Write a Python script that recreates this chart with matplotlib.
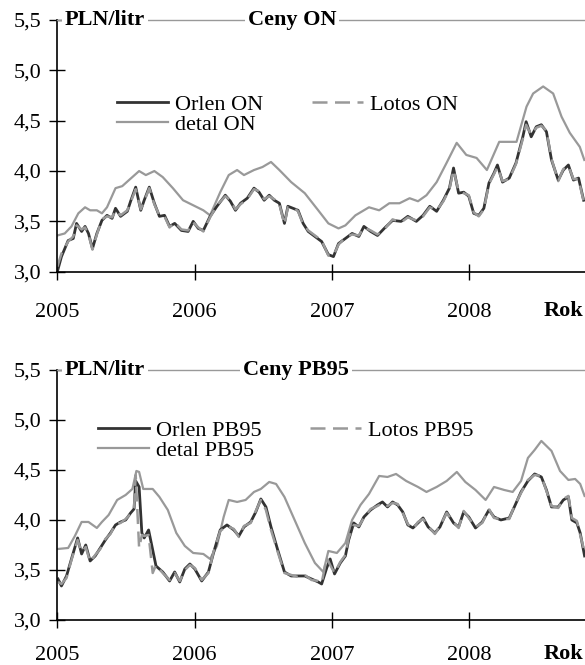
import numpy as np
import matplotlib
matplotlib.use("Agg")
import matplotlib.pyplot as plt

plt.rcParams['font.family'] = ['Liberation Serif', 'DejaVu Serif']

# osie
YEARS = [2005, 2006, 2007, 2008]
YEAR_LABELS = ["2005", "2006", "2007", "2008"]
Y_TICKS = [3.0, 3.5, 4.0, 4.5, 5.0, 5.5]
Y_LABELS = ["3,0", "3,5", "4,0", "4,5", "5,0", "5,5"]

# --- Ceny ON (czas w latach od 2005) ---
t_on_hurt = [0.000, 0.030, 0.079, 0.116, 0.140, 0.177, 0.202, 0.227, 0.256, 0.288,
             0.325, 0.362, 0.399, 0.424, 0.461, 0.510, 0.534, 0.571, 0.608, 0.633,
             0.670, 0.707, 0.744, 0.781, 0.818, 0.855, 0.904, 0.953, 0.990, 1.027,
             1.064, 1.113, 1.163, 1.224, 1.261, 1.298, 1.335, 1.384, 1.433, 1.470,
             1.507, 1.544, 1.581, 1.618, 1.655, 1.680, 1.717, 1.754, 1.791, 1.828,
             1.877, 1.926, 1.975, 2.012, 2.049, 2.099, 2.148, 2.197, 2.234, 2.283,
             2.333, 2.382, 2.443, 2.505, 2.554, 2.616, 2.665, 2.714, 2.764, 2.813,
             2.857, 2.887, 2.924, 2.961, 2.998, 3.034, 3.071, 3.108, 3.145, 3.182,
             3.207, 3.244, 3.293, 3.342, 3.392, 3.416, 3.453, 3.490, 3.527, 3.564,
             3.601, 3.650, 3.687, 3.724, 3.761, 3.798, 3.835]
orlen_on = [3.00, 3.15, 3.31, 3.33, 3.48, 3.40, 3.45, 3.38, 3.23, 3.38,
            3.51, 3.56, 3.53, 3.63, 3.55, 3.60, 3.70, 3.84, 3.61, 3.71,
            3.84, 3.68, 3.55, 3.56, 3.45, 3.48, 3.41, 3.40, 3.50, 3.43,
            3.41, 3.55, 3.65, 3.76, 3.70, 3.61, 3.68, 3.73, 3.83, 3.79,
            3.71, 3.76, 3.71, 3.68, 3.48, 3.65, 3.63, 3.61, 3.48, 3.40,
            3.35, 3.30, 3.17, 3.15, 3.28, 3.33, 3.38, 3.35, 3.45, 3.40,
            3.36, 3.43, 3.51, 3.50, 3.55, 3.50, 3.56, 3.65, 3.60, 3.71,
            3.83, 4.03, 3.78, 3.79, 3.75, 3.58, 3.56, 3.63, 3.88, 3.98,
            4.06, 3.89, 3.93, 4.08, 4.34, 4.49, 4.34, 4.44, 4.46, 4.39,
            4.11, 3.91, 4.01, 4.06, 3.91, 3.93, 3.71]
lotos_on = [3.05, 3.18, 3.30, 3.35, 3.46, 3.42, 3.44, 3.37, 3.22, 3.37,
            3.52, 3.55, 3.54, 3.61, 3.56, 3.61, 3.69, 3.82, 3.62, 3.70,
            3.83, 3.67, 3.56, 3.55, 3.44, 3.49, 3.42, 3.41, 3.49, 3.44,
            3.40, 3.54, 3.66, 3.75, 3.71, 3.62, 3.67, 3.72, 3.82, 3.80,
            3.72, 3.75, 3.72, 3.67, 3.47, 3.64, 3.64, 3.60, 3.47, 3.41,
            3.36, 3.31, 3.16, 3.16, 3.27, 3.34, 3.37, 3.36, 3.44, 3.41,
            3.37, 3.42, 3.52, 3.49, 3.54, 3.51, 3.55, 3.64, 3.61, 3.70,
            3.82, 4.01, 3.80, 3.78, 3.76, 3.59, 3.55, 3.62, 3.87, 3.97,
            4.04, 3.90, 3.92, 4.07, 4.32, 4.46, 4.36, 4.43, 4.45, 4.40,
            4.12, 3.90, 4.02, 4.05, 3.92, 3.92, 3.70]

t_on_detal = [0.000, 0.054, 0.103, 0.153, 0.202, 0.239, 0.288, 0.325, 0.362, 0.424,
              0.473, 0.522, 0.596, 0.645, 0.707, 0.768, 0.842, 0.916, 0.990, 1.064,
              1.113, 1.187, 1.249, 1.310, 1.360, 1.433, 1.495, 1.557, 1.618, 1.704,
              1.803, 1.901, 1.975, 2.049, 2.099, 2.172, 2.271, 2.345, 2.419, 2.493,
              2.567, 2.628, 2.690, 2.764, 2.836, 2.910, 2.980, 3.055, 3.130, 3.220,
              3.346, 3.419, 3.467, 3.540, 3.613, 3.674, 3.734, 3.807, 3.840]
detal_on = [3.36, 3.38, 3.45, 3.58, 3.64, 3.61, 3.61, 3.58, 3.64, 3.83,
            3.85, 3.91, 4.00, 3.96, 4.00, 3.94, 3.83, 3.71, 3.66, 3.61,
            3.56, 3.79, 3.96, 4.01, 3.96, 4.01, 4.04, 4.09, 4.01, 3.89,
            3.78, 3.61, 3.48, 3.43, 3.46, 3.56, 3.64, 3.61, 3.68, 3.68,
            3.73, 3.70, 3.76, 3.89, 4.08, 4.28, 4.16, 4.13, 4.01, 4.29,
            4.29, 4.64, 4.77, 4.84, 4.77, 4.54, 4.38, 4.24, 4.11]

# --- Ceny PB95 ---
t_pb_hurt = [0.005, 0.030, 0.067, 0.103, 0.148, 0.177, 0.207, 0.239, 0.276, 0.313,
             0.350, 0.387, 0.424, 0.461, 0.498, 0.534, 0.559, 0.571, 0.596, 0.616,
             0.633, 0.665, 0.695, 0.719, 0.768, 0.818, 0.855, 0.892, 0.929, 0.966,
             1.002, 1.052, 1.101, 1.138, 1.187, 1.236, 1.286, 1.323, 1.360, 1.409,
             1.446, 1.483, 1.520, 1.557, 1.606, 1.655, 1.704, 1.754, 1.803, 1.852,
             1.901, 1.926, 1.963, 1.988, 2.020, 2.062, 2.099, 2.123, 2.160, 2.197,
             2.234, 2.283, 2.333, 2.369, 2.406, 2.443, 2.480, 2.517, 2.554, 2.591,
             2.628, 2.665, 2.702, 2.751, 2.788, 2.837, 2.887, 2.924, 2.961, 2.998,
             3.047, 3.096, 3.145, 3.182, 3.232, 3.293, 3.330, 3.379, 3.429, 3.478,
             3.527, 3.564, 3.601, 3.650, 3.687, 3.724, 3.749, 3.786, 3.810, 3.842]
orlen_pb = [3.41, 3.34, 3.44, 3.61, 3.82, 3.66, 3.75, 3.59, 3.64, 3.72,
            3.80, 3.87, 3.95, 3.98, 4.00, 4.07, 4.11, 4.39, 4.33, 3.87,
            3.82, 3.90, 3.70, 3.54, 3.48, 3.39, 3.48, 3.38, 3.51, 3.56,
            3.51, 3.39, 3.48, 3.67, 3.90, 3.95, 3.90, 3.84, 3.93, 3.98,
            4.08, 4.21, 4.13, 3.93, 3.70, 3.48, 3.44, 3.44, 3.44, 3.41,
            3.38, 3.36, 3.52, 3.61, 3.46, 3.57, 3.64, 3.80, 3.97, 3.93,
            4.03, 4.10, 4.15, 4.18, 4.13, 4.18, 4.15, 4.08, 3.95, 3.92,
            3.97, 4.02, 3.93, 3.87, 3.93, 4.08, 3.97, 3.93, 4.08, 4.03,
            3.92, 3.98, 4.10, 4.03, 4.00, 4.02, 4.13, 4.28, 4.39, 4.46,
            4.43, 4.30, 4.13, 4.13, 4.20, 4.23, 4.00, 3.97, 3.87, 3.64]
lotos_pb = [3.38, 3.36, 3.42, 3.60, 3.80, 3.68, 3.73, 3.58, 3.65, 3.71,
            3.81, 3.86, 3.96, 3.97, 4.01, 4.06, 4.12, 4.45, 3.72, 3.85,
            3.84, 3.85, 3.47, 3.55, 3.47, 3.40, 3.47, 3.39, 3.50, 3.55,
            3.52, 3.40, 3.47, 3.68, 3.89, 3.94, 3.91, 3.83, 3.94, 3.97,
            4.09, 4.20, 4.10, 3.90, 3.68, 3.47, 3.45, 3.43, 3.45, 3.40,
            3.39, 3.37, 3.62, 3.55, 3.47, 3.58, 3.65, 3.82, 3.95, 3.94,
            4.02, 4.11, 4.14, 4.17, 4.14, 4.17, 4.16, 4.07, 3.96, 3.91,
            3.98, 4.01, 3.94, 3.86, 3.94, 4.07, 3.98, 3.92, 4.09, 4.02,
            3.93, 3.97, 4.11, 4.02, 4.01, 4.01, 4.14, 4.27, 4.40, 4.45,
            4.44, 4.29, 4.14, 4.12, 4.21, 4.24, 4.02, 3.99, 3.85, 3.68]

t_pb_detal = [0.005, 0.079, 0.128, 0.177, 0.227, 0.288, 0.325, 0.374, 0.436, 0.498,
              0.547, 0.576, 0.596, 0.626, 0.695, 0.744, 0.805, 0.867, 0.929, 0.990,
              1.064, 1.113, 1.163, 1.212, 1.249, 1.310, 1.372, 1.433, 1.483, 1.544,
              1.594, 1.655, 1.729, 1.803, 1.877, 1.938, 1.975, 2.037, 2.099, 2.148,
              2.209, 2.271, 2.345, 2.406, 2.468, 2.542, 2.628, 2.690, 2.764, 2.837,
              2.911, 2.973, 3.047, 3.121, 3.182, 3.256, 3.318, 3.379, 3.429, 3.478,
              3.527, 3.601, 3.663, 3.724, 3.773, 3.810, 3.842]
detal_pb = [3.71, 3.72, 3.84, 3.98, 3.98, 3.92, 3.98, 4.05, 4.20, 4.25,
            4.31, 4.49, 4.48, 4.31, 4.31, 4.23, 4.10, 3.87, 3.74, 3.67,
            3.66, 3.61, 3.74, 4.03, 4.20, 4.18, 4.20, 4.28, 4.31, 4.38,
            4.36, 4.23, 4.00, 3.77, 3.57, 3.48, 3.69, 3.67, 3.77, 4.00,
            4.15, 4.26, 4.44, 4.43, 4.46, 4.39, 4.33, 4.28, 4.33, 4.39,
            4.48, 4.38, 4.30, 4.20, 4.33, 4.30, 4.28, 4.39, 4.62, 4.70,
            4.79, 4.69, 4.49, 4.40, 4.41, 4.36, 4.24]

DARK = "#333333"
GRAY = "#999999"

fig = plt.figure(figsize=(5.85, 6.65), dpi=100)
ax_on = fig.add_axes([0.098, 0.5914, 0.902, 0.3785])
ax_pb = fig.add_axes([0.098, 0.0677, 0.902, 0.3760])


def draw_panel(ax, t_h, orlen, lotos, t_d, detal, fuel, title_x, leg_xy, xpad, rok_y):
    ax.plot(2005 + np.array(t_d), detal, color=GRAY, lw=1.6, label=f"detal {fuel}")
    ax.plot(2005 + np.array(t_h), orlen, color=DARK, lw=2.0, label=f"Orlen {fuel}")
    ax.plot(2005 + np.array(t_h), lotos, color=GRAY, lw=1.8, dashes=(6, 3),
            label=f"Lotos {fuel}")

    ax.set_xlim(2005, 2008.845)
    ax.set_ylim(3.0, 5.5)
    ax.set_xticks(YEARS)
    ax.set_xticklabels(YEAR_LABELS)
    ax.set_yticks(Y_TICKS)
    ax.set_yticklabels(Y_LABELS)
    ax.tick_params(axis='both', direction='inout', length=11, width=1,
                   labelsize=16, colors='black')
    ax.tick_params(axis='x', pad=xpad)
    ax.tick_params(axis='y', pad=6)

    ax.spines['right'].set_visible(False)
    ax.spines['top'].set_color(GRAY)
    ax.spines['top'].set_linewidth(1)
    ax.spines['left'].set_linewidth(1.2)
    ax.spines['bottom'].set_linewidth(1.2)

    box = dict(facecolor='white', edgecolor='none', pad=2)
    ax.text(0.0146, 1.0, "PLN/litr", transform=ax.transAxes, fontsize=16,
            fontweight='bold', va='center', ha='left', bbox=box)
    ax.text(title_x, 1.0, f"Ceny {fuel}", transform=ax.transAxes, fontsize=16,
            fontweight='bold', va='center', ha='left', bbox=box)
    ax.text(0.96, rok_y, "Rok", transform=ax.transAxes, fontsize=16,
            fontweight='bold', va='center', ha='center')

    h, l = ax.get_legend_handles_labels()
    order = [1, 0, 2]
    ax.legend([h[i] for i in order], [l[i] for i in order], ncol=2,
              loc='upper left', bbox_to_anchor=leg_xy, frameon=False,
              fontsize=16, handlelength=2.3, handletextpad=0.3,
              columnspacing=2.2, labelspacing=0.0, borderpad=0,
              borderaxespad=0)


draw_panel(ax_on, t_on_hurt, orlen_on, lotos_on, t_on_detal, detal_on,
           "ON", 0.361, (0.113, 0.706), 17, -0.155)
draw_panel(ax_pb, t_pb_hurt, orlen_pb, lotos_pb, t_pb_detal, detal_pb,
           "PB95", 0.352, (0.077, 0.80), 13, -0.135)

fig.savefig("out.png", dpi=100)
plt.close(fig)
